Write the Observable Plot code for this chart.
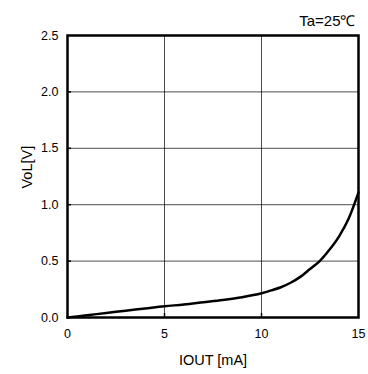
<!DOCTYPE html>
<html>
<head>
<meta charset="utf-8">
<script src="https://cdn.jsdelivr.net/npm/d3@7"></script>
<script src="https://cdn.jsdelivr.net/npm/@observablehq/plot@0.6"></script>
<style>
  html, body { margin: 0; padding: 0; background: #fff; }
  #chart { width: 368px; height: 374px; }
  #chart svg, #chart svg text { font-family: "Liberation Sans", Arial, sans-serif; }
</style>
</head>
<body>
<div id="chart"></div>
<script>
const iout = [0, 1, 2, 3, 4, 5, 6, 7, 8, 9, 10, 10.5, 11, 11.5, 12, 12.5, 13, 13.5, 14, 14.5, 15];
const vol  = [0, 0.02, 0.04, 0.06, 0.08, 0.10, 0.115, 0.135, 0.155, 0.18, 0.215, 0.24, 0.268, 0.308, 0.36, 0.43, 0.50, 0.60, 0.72, 0.88, 1.11];
const xTicks = [0, 5, 10, 15];
const yTicks = [0, 0.5, 1.0, 1.5, 2.0, 2.5];
const xLabel = "IOUT [mA]";
const yLabel = "VoL[V]";
const note = "Ta=25℃";

const data = iout.map((x, i) => ({x, y: vol[i]}));

const chart = Plot.plot({
  width: 368,
  height: 374,
  marginLeft: 67,
  marginRight: 10,
  marginTop: 35,
  marginBottom: 57,
  style: {fontFamily: "Liberation Sans, Arial, sans-serif", fontSize: "12px", color: "#000", background: "#fff"},
  x: {domain: [0, 15]},
  y: {domain: [0, 2.5]},
  marks: [
    Plot.gridX(xTicks.slice(1, -1), {stroke: "#000", strokeOpacity: 0.7, strokeWidth: 1}),
    Plot.gridY(yTicks.slice(1, -1), {stroke: "#000", strokeOpacity: 0.7, strokeWidth: 1}),
    Plot.axisX(xTicks, {tickSize: 0, tickPadding: 12, tickFormat: d3.format("d"), label: null, fontSize: 12.5}),
    Plot.axisY(yTicks, {tickSize: 0, tickPadding: 9, tickFormat: d3.format(".1f"), label: null, fontSize: 12.5}),
    Plot.axisX(xTicks.slice(1, -1), {tickSize: -4, text: null, label: null, strokeWidth: 1.5}),
    Plot.axisY(yTicks.slice(1, -1), {tickSize: -4, text: null, label: null, strokeWidth: 1.5}),
    Plot.line(data, {x: "x", y: "y", stroke: "#000", strokeWidth: 2.5, curve: "monotone-x"}),
    Plot.frame({stroke: "#000", strokeWidth: 2.5}),
    Plot.text([note], {frameAnchor: "top-right", text: d => d, dy: -20, dx: -3, fontSize: 15, textAnchor: "end"}),
    Plot.text([xLabel], {frameAnchor: "bottom", text: d => d, dy: 47, fontSize: 14.5}),
    Plot.text([yLabel], {frameAnchor: "left", text: d => d, dx: -40, dy: 12, rotate: -90, fontSize: 14.5})
  ]
});
document.getElementById("chart").append(chart);
</script>
</body>
</html>
